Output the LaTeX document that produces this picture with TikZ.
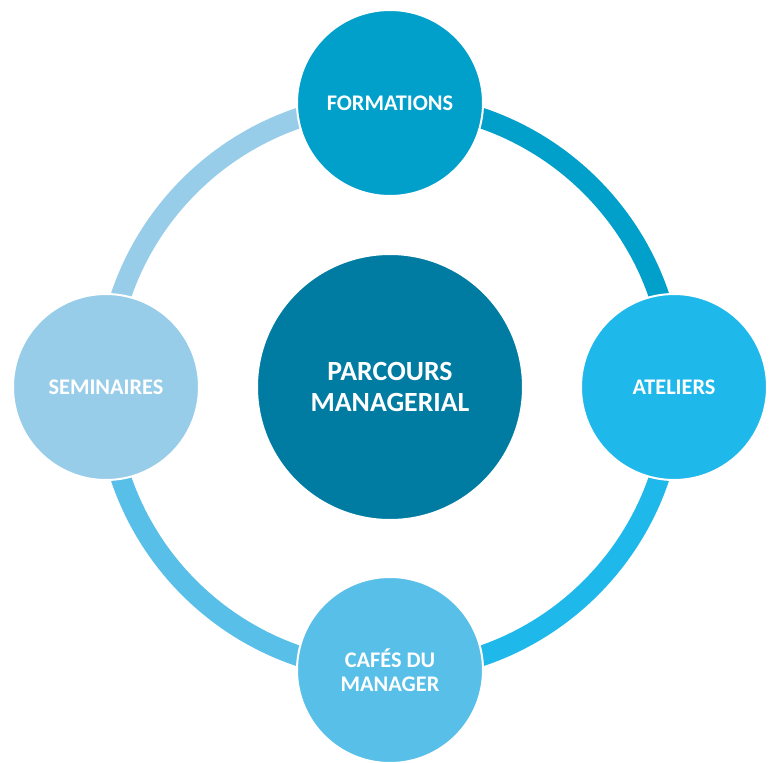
\documentclass[tikz,border=0pt]{standalone}
\usepackage{fontspec}
\setmainfont{Carlito}
\usepackage{tikz}
\usetikzlibrary{calc}
\definecolor{coeur}{HTML}{007CA2}
\definecolor{haut}{HTML}{00A0CB}
\definecolor{droite}{HTML}{1EB8EB}
\definecolor{bas}{HTML}{58BFE8}
\definecolor{gauche}{HTML}{98CDE9}
\tikzset{
	pastille/.style={circle, draw=white, line width=0.4mm, minimum size=3.72cm, inner sep=0pt, text=white, font=\bfseries\fontsize{12.7}{13.9}\selectfont, align=center},
	anneau/.style={line width=0.41cm}
}

\begin{document}
\begin{tikzpicture}
		%%%%% START %%%%%
		
		\useasboundingbox (-7.8, -7.5) rectangle (7.68, 7.74);
		
		\coordinate (centre) at (0, 0);
		
		% anneau
		\draw[anneau, color=haut] ($(centre)+(90:5.68)$) arc (90:0:5.68);
		\draw[anneau, color=droite] ($(centre)+(0:5.68)$) arc (0:-90:5.68);
		\draw[anneau, color=bas] ($(centre)+(-90:5.68)$) arc (-90:-180:5.68);
		\draw[anneau, color=gauche] ($(centre)+(180:5.68)$) arc (180:90:5.68);
		
		% pastilles
		\node[pastille, fill=coeur, minimum size=5.32cm, font=\bfseries\fontsize{15.8}{17.5}\selectfont] (parcours) at (centre) {PARCOURS\\MANAGERIAL};
		\node[pastille, fill=haut] (formations) at (0, 5.68) {FORMATIONS};
		\node[pastille, fill=droite] (ateliers) at (5.68, 0) {ATELIERS};
		\node[pastille, fill=bas] (cafes) at (0, -5.66) {CAFÉS DU\\MANAGER};
		\node[pastille, fill=gauche] (seminaires) at (-5.68, 0) {SEMINAIRES};
		
		%%%%% END %%%%%
	\end{tikzpicture}
\end{document}
